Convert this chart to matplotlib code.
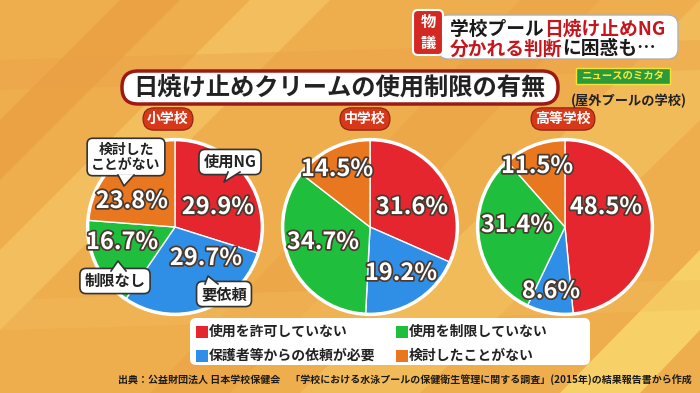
import matplotlib
matplotlib.use("Agg")
import matplotlib.pyplot as plt
from matplotlib.patches import FancyBboxPatch, Polygon, Rectangle, Circle
import matplotlib.patheffects as pe

plt.rcParams['font.family'] = ['Noto Sans CJK JP', 'DejaVu Sans']

# ---- data ----
legend_labels = ['使用を許可していない', '保護者等からの依頼が必要', '使用を制限していない', '検討したことがない']
slice_colors = ['#E5262E', '#2F8FE6', '#1FBF3D', '#E8771F']
schools = ['小学校', '中学校', '高等学校']
elementary = [29.9, 29.7, 16.7, 23.8]
junior_high = [31.6, 19.2, 34.7, 14.5]
high_school = [48.5, 8.6, 31.4, 11.5]
callouts = ['使用NG', '要依頼', '制限なし', '検討した\nことがない']

title = '日焼け止めクリームの使用制限の有無'
subtitle = '(屋外プールの学校)'
source = '出典：公益財団法人 日本学校保健会　「学校における水泳プールの保健衛生管理に関する調査」(2015年)の結果報告書から作成'

W, H = 700, 393
fig = plt.figure(figsize=(7, 3.93), dpi=100)

# background layer in pixel coordinates
bg = fig.add_axes([0, 0, 1, 1], zorder=0)
bg.set_xlim(0, W)
bg.set_ylim(H, 0)
bg.axis('off')
bg.add_patch(Rectangle((0, 0), W, H, color='#EFAE4E'))
bands = [
    ([(0, 250), (0, 330), (330, 0), (250, 0)], '#F6C766', 0.7),
    ([(300, 393), (420, 393), (700, 120), (700, 0)], '#F5C462', 0.6),
    ([(560, 393), (640, 393), (700, 330), (700, 250)], '#FADB6E', 0.8),
    ([(0, 120), (0, 180), (180, 0), (120, 0)], '#E8973E', 0.5),
    ([(150, 393), (230, 393), (600, 0), (520, 0)], '#E89A40', 0.35),
    ([(0, 300), (700, 280), (700, 310), (0, 330)], '#F3BD5C', 0.4),
    ([(0, 60), (700, 40), (700, 70), (0, 90)], '#E9A045', 0.4),
]
for pts, c, a in bands:
    bg.add_patch(Polygon(pts, closed=True, color=c, alpha=a, lw=0))

# ---- pies ----
pie_centers = [(175, 227), (370, 227), (565, 227)]
radius = 90
for (cx, cy), vals in zip(pie_centers, [elementary, junior_high, high_school]):
    ax = fig.add_axes([(cx - radius) / W, (H - cy - radius) / H, 2 * radius / W, 2 * radius / H], zorder=1)
    ax.pie(vals, colors=slice_colors, startangle=90, counterclock=False,
           wedgeprops=dict(edgecolor='white', linewidth=1))
    ax.add_patch(Circle((0, 0), 1, fill=False, ec='white', lw=2.5))
    ax.set_xlim(-1.03, 1.03)
    ax.set_ylim(-1.03, 1.03)
    ax.set_aspect('equal')
    ax.axis('off')

# ---- foreground texts ----
fg = fig.add_axes([0, 0, 1, 1], zorder=2)
fg.set_xlim(0, W)
fg.set_ylim(H, 0)
fg.axis('off')
fg.patch.set_alpha(0)

outline = [pe.withStroke(linewidth=2.5, foreground='#4a3a30')]

# percentage labels (pixel positions, order matches data)
label_pos = [
    [(218, 207), (206, 258), (122, 242), (132, 201)],
    [(412, 207), (401, 273), (323, 242), (337, 169)],
    [(606, 207), (551, 291), (517, 225), (537, 166)],
]
for pos, vals in zip(label_pos, [elementary, junior_high, high_school]):
    for (x, y), v in zip(pos, vals):
        fg.text(x, y, f'{v}%', ha='center', va='center', fontsize=17, fontweight='bold',
                color='white', path_effects=outline)

# school labels
for (cx, cy), name in zip([(168, 119), (365, 119), (563, 119)], schools):
    fg.text(cx, cy, name, ha='center', va='center', fontsize=10, fontweight='bold', color='white',
            bbox=dict(boxstyle='round,pad=0.3,rounding_size=0.8', fc='#D8381A', ec='#8a2010', lw=0.8))

# callout bubbles for elementary school
bubbles = [
    ((230, 162), [(228, 172), (240, 172), (224, 182)]),
    ((224, 294), [(205, 284), (218, 284), (208, 276)]),
    ((115, 281), [(111, 271), (126, 271), (118, 261)]),
    ((126, 157), [(118, 175), (134, 175), (124, 186)]),
]
for text, ((x, y), tail) in zip(callouts, bubbles):
    fs = 10 if '\n' in text else 11
    fg.text(x, y, text, ha='center', va='center', fontsize=fs, fontweight='bold', color='#222222',
            linespacing=1.1,
            bbox=dict(boxstyle='round,pad=0.3,rounding_size=0.4', fc='white', ec='#333333', lw=1.2))
    fg.add_patch(Polygon(tail, closed=True, fc='white', ec='none', zorder=5))
    fg.plot([tail[0][0], tail[2][0], tail[1][0]], [tail[0][1], tail[2][1], tail[1][1]],
            color='#333333', lw=1.2, zorder=6)

# title box
fg.add_patch(FancyBboxPatch((122, 71), 436, 33, boxstyle='round,pad=0,rounding_size=16',
                            fc='white', ec='#9B1B14', lw=2.5))
fg.text(339, 88, title, ha='center', va='center', fontsize=17.5, fontweight='bold', color='#222222')
fg.text(629, 101, subtitle, ha='center', va='center', fontsize=9.5, fontweight='bold', color='#222222')

# small logo
fg.add_patch(Rectangle((576, 68), 94, 16, fc='#2D9A3A', ec='#F3E43A', lw=1))
fg.text(623, 76, 'ニュースのミカタ', ha='center', va='center', fontsize=7.5, fontweight='bold', color='#F6EC3F')

# headline at top right
fg.add_patch(FancyBboxPatch((438, 15), 240, 44, boxstyle='round,pad=0,rounding_size=10',
                            fc='white', ec='#B0B0B0', lw=1))
fg.add_patch(FancyBboxPatch((413, 10), 30, 45, boxstyle='round,pad=0,rounding_size=5',
                            fc='#D22A22', ec='white', lw=1.5))
fg.text(428, 22, '物', ha='center', va='center', fontsize=11, fontweight='bold', color='white')
fg.text(428, 43, '議', ha='center', va='center', fontsize=11, fontweight='bold', color='white')
t1 = fg.text(450, 29, '学校プール', ha='left', va='center', fontsize=13.5, fontweight='bold', color='#1a1a1a')
fg.annotate('日焼け止めNG', xy=(1, 0.5), xycoords=t1, ha='left', va='center', fontsize=13.5,
            fontweight='bold', color='#C4161C')
t2 = fg.text(450, 49, '分かれる判断', ha='left', va='center', fontsize=13.5, fontweight='bold', color='#C4161C')
fg.annotate('に困惑も…', xy=(1, 0.5), xycoords=t2, ha='left', va='center', fontsize=13.5,
            fontweight='bold', color='#1a1a1a')

# legend
fg.add_patch(FancyBboxPatch((190, 318), 400, 47, boxstyle='round,pad=0,rounding_size=6',
                            fc='white', ec='none'))
legend_pos = [(196, 332), (196, 356), (396, 332), (396, 356)]
for (x, y), lab, c in zip(legend_pos, legend_labels, slice_colors):
    fg.add_patch(Rectangle((x, y - 6), 12, 12, fc=c, ec='none'))
    fg.text(x + 13, y, lab, ha='left', va='center', fontsize=10, fontweight='bold', color='#222222')

# source
fg.text(405, 380, source, ha='center', va='center', fontsize=7.2, fontweight='bold', color='#1a1a1a')

fig.savefig('out.png', dpi=100)
